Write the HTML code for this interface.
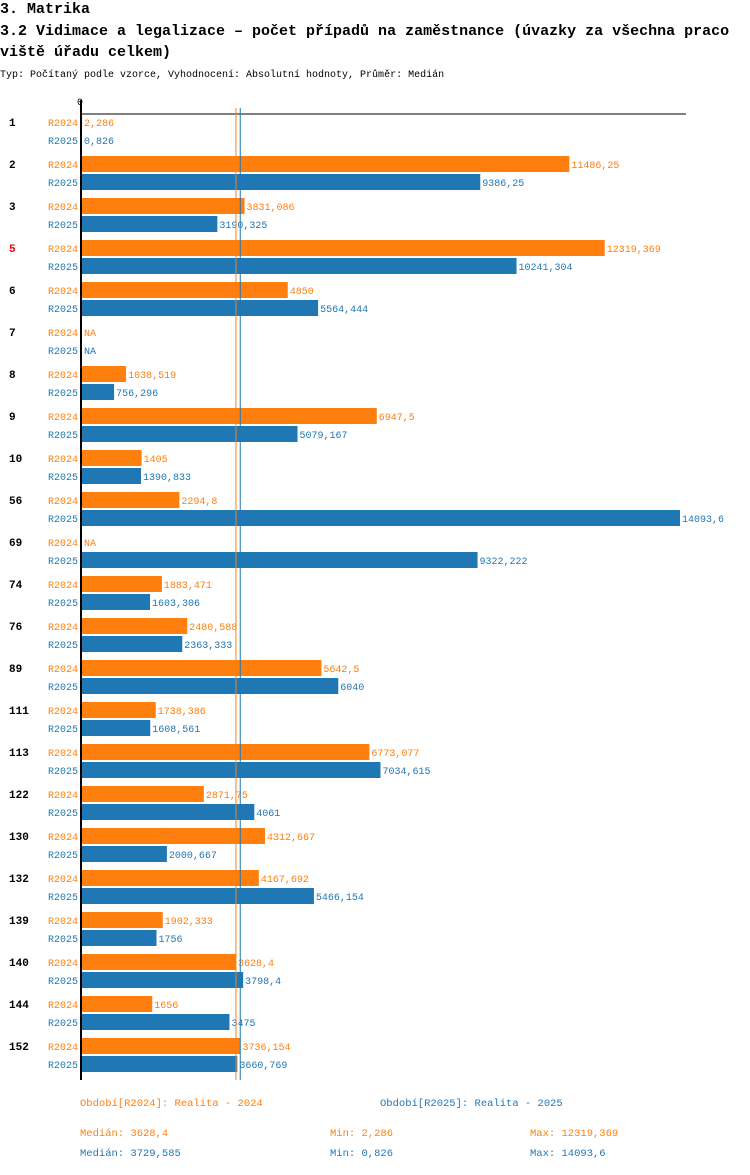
<!DOCTYPE html>
<html><head><meta charset="utf-8"><style>
body{margin:0;background:#fff;width:750px;height:1170px;overflow:hidden}
svg{font-family:"Liberation Mono",monospace}
</style></head><body>
<svg id="chart" width="750" height="1170" xmlns="http://www.w3.org/2000/svg">
<text x="0" y="13" font-size="15" font-weight="bold">3. Matrika</text>
<text x="0" y="35" font-size="15" font-weight="bold">3.2 Vidimace a legalizace – počet případů na zaměstnance (úvazky za všechna praco</text>
<text x="0" y="56" font-size="15" font-weight="bold">viště úřadu celkem)</text>
<text x="0" y="77" font-size="10">Typ: Počítaný podle vzorce, Vyhodnocení: Absolutní hodnoty, Průměr: Medián</text>
<g id="plot"></g>
<g font-size="10.5">
<text x="80" y="1106" fill="#ff7f0e">Období[R2024]: Realita - 2024</text>
<text x="380" y="1106" fill="#1f77b4">Období[R2025]: Realita - 2025</text>
<text x="80" y="1136" fill="#ff7f0e">Medián: 3628,4</text>
<text x="330" y="1136" fill="#ff7f0e">Min: 2,286</text>
<text x="530" y="1136" fill="#ff7f0e">Max: 12319,369</text>
<text x="80" y="1156" fill="#1f77b4">Medián: 3729,585</text>
<text x="330" y="1156" fill="#1f77b4">Min: 0,826</text>
<text x="530" y="1156" fill="#1f77b4">Max: 14093,6</text>
</g>
</svg>
<script>
const categories=["1","2","3","5","6","7","8","9","10","56","69","74","76","89","111","113","122","130","132","139","140","144","152"];
const values2024=[2.286,11486.25,3831.086,12319.369,4850,null,1038.519,6947.5,1405,2294.8,null,1883.471,2480.588,5642.5,1738.386,6773.077,2871.75,4312.667,4167.692,1902.333,3628.4,1656,3736.154];
const values2025=[0.826,9386.25,3190.325,10241.304,5564.444,null,756.296,5079.167,1390.833,14093.6,9322.222,1603.306,2363.333,6040,1608.561,7034.615,4061,2000.667,5466.154,1756,3798.4,3475,3660.769];
const medians=[3628.4,3729.585];
const C1="#ff7f0e",C2="#1f77b4",NS="http://www.w3.org/2000/svg";
const x0=82,sc=598/14093.6;
const xs=v=>x0+v*sc;
const ys=i=>122+42*i;
const g=document.getElementById('plot');
function el(t,a,txt){const e=document.createElementNS(NS,t);for(const k in a)e.setAttribute(k,a[k]);if(txt!==undefined)e.textContent=txt;g.appendChild(e);return e;}
const fmt=v=>String(v).replace('.',',');
let e;
e=el('line',{x1:81,y1:114,x2:686,y2:114,stroke:'#000','stroke-width':1});


e=el('text',{x:80,y:105,'font-size':10,'text-anchor':'middle'},'0');


categories.forEach((c,i)=>{
  const yc=ys(i);
  e=el('text',{x:9,y:yc+4,'font-size':11,'font-weight':'bold',fill:c==='5'?'#e00':'#000'},c);
  
  
  [[values2024,C1,'R2024',0],[values2025,C2,'R2025',18]].forEach(([arr,col,lab,dy])=>{
    const v=arr[i],y=yc+dy;
    e=el('text',{x:78,y:y+4,'font-size':10,fill:col,'text-anchor':'end'},lab);
    
    
    if(v===null){
      e=el('text',{x:84,y:y+4,'font-size':10,fill:col},'NA');
      
      
      return;
    }
    e=el('rect',{x:x0,y:y-8,width:Math.max(0,xs(v)-x0),height:16,fill:col});
    
    
    e=el('text',{x:xs(v)+2,y:y+4,'font-size':10,fill:col},fmt(v));
    
    
  });
});
[[medians[0],C1],[medians[1],C2]].forEach(([m,col])=>{
  e=el('line',{x1:xs(m),y1:108,x2:xs(m),y2:1080,stroke:col,'stroke-width':1});
  
  
});
e=el('line',{x1:81,y1:100,x2:81,y2:1080,stroke:'#000','stroke-width':2});


</script>
</body></html>
